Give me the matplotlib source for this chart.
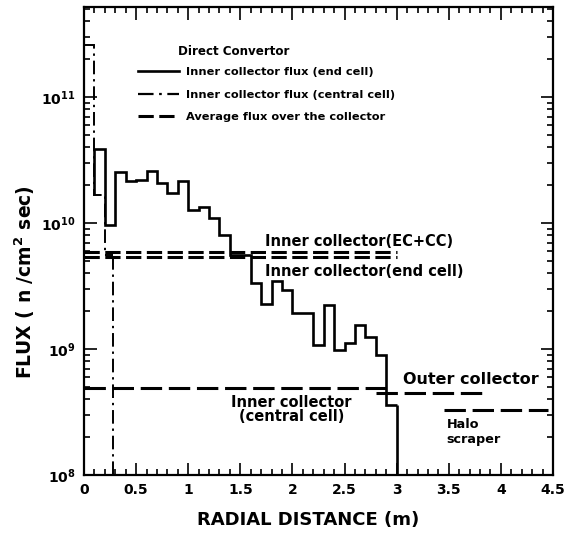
import numpy as np
import matplotlib
matplotlib.use("Agg")
import matplotlib.pyplot as plt
from matplotlib.lines import Line2D
from matplotlib.ticker import MultipleLocator, LogLocator, FuncFormatter, NullFormatter

plt.rcParams['font.family'] = ['DejaVu Sans']
plt.rcParams['font.weight'] = 'bold'
plt.rcParams['mathtext.default'] = 'bf'

# --- Inner collector flux, end cell (solid histogram, 0.1 m bins) ---
end_cell_edges = [0.1, 0.2, 0.3, 0.4, 0.5, 0.6, 0.7, 0.8, 0.9, 1.0,
                  1.1, 1.2, 1.3, 1.4, 1.5, 1.6, 1.7, 1.8, 1.9, 2.0,
                  2.1, 2.2, 2.3, 2.4, 2.5, 2.6, 2.7, 2.8, 2.9, 3.0]
end_cell_flux = [3.9e10, 9.6e9, 2.54e10, 2.15e10, 2.2e10, 2.59e10, 2.07e10,
                 1.73e10, 2.15e10, 1.28e10, 1.35e10, 1.1e10, 8.0e9, 5.6e9,
                 5.6e9, 3.34e9, 2.3e9, 3.5e9, 2.94e9, 1.93e9, 1.93e9, 1.07e9,
                 2.23e9, 0.98e9, 1.12e9, 1.55e9, 1.25e9, 0.9e9, 3.6e8]
end_cell_start = 1.67e10

# --- Inner collector flux, central cell (dash-dot histogram) ---
central_edges = [0.0, 0.1, 0.2, 0.28]
central_flux = [2.6e11, 1.67e10, 5.6e9]

# --- Average flux over each collector (dashed levels) ---
avg_names = ["EC+CC", "end cell", "central cell", "outer", "halo"]
avg_flux = [5.9e9, 5.35e9, 4.9e8, 4.5e8, 3.3e8]
avg_start = [0.0, 0.0, 0.0, 2.8, 3.45]
avg_stop = [3.0, 3.0, 2.9, 3.87, 4.45]

x_ticks = [0, 0.5, 1, 1.5, 2, 2.5, 3, 3.5, 4, 4.5]
y_min, y_max = 1e8, 5.2e11

W, H = 571, 534
fig = plt.figure(figsize=(W / 100, H / 100), dpi=100)
ax = fig.add_axes([84 / W, 1 - 475 / H, (553 - 84) / W, (475 - 7) / H])

ax.set_yscale('log')
ax.set_xlim(0, 4.5)
ax.set_ylim(y_min, y_max)

lw = 1.9
dashdot = (0, (7, 2.5, 1.2, 2.5))

# end cell histogram
ax.stairs(end_cell_flux, end_cell_edges, baseline=None, color='black', lw=lw)
ax.vlines(end_cell_edges[0], end_cell_start, end_cell_flux[0], color='black', lw=lw)
ax.vlines(end_cell_edges[-1], y_min, end_cell_flux[-1], color='black', lw=lw)

# central cell histogram
ax.stairs(central_flux, central_edges, baseline=None, color='black', lw=1.4,
          linestyle=dashdot)
ax.vlines(central_edges[-1], y_min, central_flux[-1], color='black', lw=1.4,
          linestyle=dashdot)

# average flux levels
dash_styles = [(0, (5, 1.8)), (0, (5, 1.8)), (0, (7, 2.2)), (0, (7, 2.2)), (0, (7, 2.2))]
for f, a, b, ds in zip(avg_flux, avg_start, avg_stop, dash_styles):
    ax.hlines(f, a, b, color='black', lw=2.2, linestyle=ds)

# legend
handles = [Line2D([], [], color='black', lw=lw),
           Line2D([], [], color='black', lw=1.6, linestyle=dashdot),
           Line2D([], [], color='black', lw=2.2, linestyle=(0, (5, 1.8)))]
labels = ["Inner collector flux (end cell)",
          "Inner collector flux (central cell)",
          "Average flux over the collector"]
ax.legend(handles, labels, loc='upper left', bbox_to_anchor=(0.115, 0.872),
          frameon=False, fontsize=8.2, handlelength=3.6, handletextpad=0.65,
          labelspacing=1.12, borderpad=0, borderaxespad=0)
ax.text(0.2, 0.905, "Direct Convertor", transform=ax.transAxes, fontsize=8.6,
        ha='left', va='center')

# collector annotations
ax.text(1.74, 7.1e9, "Inner collector(EC+CC)", ha='left', va='center', fontsize=10.5)
ax.text(1.74, 4.1e9, "Inner collector(end cell)", ha='left', va='center', fontsize=10.5)
ax.text(3.06, 5.7e8, "Outer collector", ha='left', va='center', fontsize=11.5)
ax.text(1.99, 3.3e8, "Inner collector\n(central cell)", ha='center', va='center',
        linespacing=0.95, fontsize=10.5)
ax.text(3.48, 2.2e8, "Halo\nscraper", ha='left', va='center', linespacing=1.15,
        fontsize=9.2)

# axes styling
for s in ax.spines.values():
    s.set_linewidth(1.6)
ax.xaxis.set_major_locator(plt.FixedLocator(x_ticks))
ax.xaxis.set_major_formatter(FuncFormatter(lambda v, p: f"{v:g}"))
ax.xaxis.set_minor_locator(MultipleLocator(0.1))
ax.yaxis.set_major_locator(LogLocator(base=10))
ax.yaxis.set_minor_locator(LogLocator(base=10, subs=np.arange(2, 10)))
ax.yaxis.set_minor_formatter(NullFormatter())
ax.tick_params(which='both', direction='in', top=True, right=True, width=1.2)
ax.tick_params(which='major', length=9, labelsize=10, pad=6)
ax.tick_params(which='minor', length=4.5)

ax.set_xlabel("RADIAL DISTANCE (m)", fontsize=13, fontweight='bold')
ax.xaxis.set_label_coords(0.478, -0.077)
ax.set_ylabel("FLUX ( n /cm$^2$ sec)", fontsize=13.5, fontweight='bold')
ax.yaxis.set_label_coords(-0.10, 0.412)

fig.savefig("out.png", dpi=100)
